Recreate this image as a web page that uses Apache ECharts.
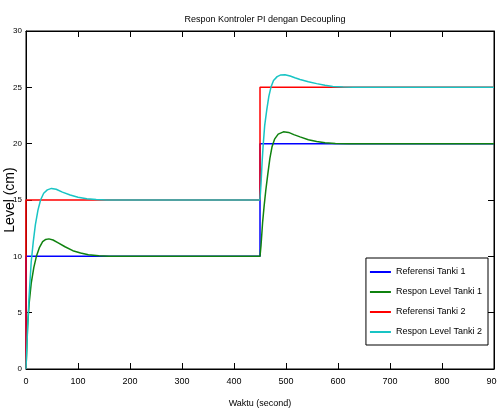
<!DOCTYPE html>
<html>
<head>
<meta charset="utf-8">
<script src="https://cdn.jsdelivr.net/npm/echarts@6.0.0/dist/echarts.min.js"></script>
<style>
html, body { margin: 0; padding: 0; background: #fff; }
#chart { width: 497px; height: 410px; }
</style>
</head>
<body>
<div id="chart"></div>
<script>
// values: [time (s), level (cm)]
var seriesNames = ['Referensi Tanki 1', 'Respon Level Tanki 1', 'Referensi Tanki 2', 'Respon Level Tanki 2'];

var refTank1 = [[0, 0], [0, 10], [450, 10], [450, 20], [900, 20]];
var refTank2 = [[0, 0], [0, 15], [450, 15], [450, 25], [900, 25]];

var respTank1 = [
    [0, 0], [3, 3.8], [6, 5.8], [10, 7.6], [15, 9.0], [20, 10.0], [26, 10.8], [32, 11.3],
    [38, 11.5], [44, 11.55], [52, 11.45], [62, 11.2], [75, 10.85], [90, 10.5], [105, 10.3],
    [120, 10.15], [140, 10.05], [160, 10], [450, 10],
    [452, 11], [455, 13], [458, 14.5], [461, 15.8], [465, 17.3], [469, 18.7], [473, 19.7],
    [478, 20.4], [485, 20.85], [495, 21.05], [505, 21.0], [515, 20.8], [527, 20.6],
    [543, 20.35], [559, 20.2], [575, 20.08], [595, 20.02], [620, 20], [900, 20]
];

var respTank2 = [
    [0, 0], [3, 3.5], [6, 6.5], [10, 9.5], [14, 11.3], [18, 12.8], [23, 14.1], [28, 15.0],
    [34, 15.6], [41, 15.9], [49, 16.03], [58, 15.95], [70, 15.7], [85, 15.44], [100, 15.25],
    [117, 15.12], [135, 15.04], [155, 15], [450, 15],
    [452, 16.5], [454, 18.3], [456, 19.8], [459, 21.6], [463, 23.0], [467, 24.2], [471, 25.0],
    [476, 25.6], [483, 25.95], [490, 26.1], [498, 26.12], [508, 26.0], [517, 25.85],
    [527, 25.7], [543, 25.5], [559, 25.33], [575, 25.18], [590, 25.08], [610, 25.02],
    [630, 25], [900, 25]
];

var seriesData = [refTank1, respTank1, refTank2, respTank2];
var seriesColors = ['#0000ff', '#0f820f', '#ff0000', '#18c4c4'];

var sans = '"Liberation Sans", Arial, sans-serif';

var chart = echarts.init(document.getElementById('chart'), null, { renderer: 'canvas' });

var series = seriesData.map(function (d, i) {
    return {
        name: seriesNames[i],
        type: 'line',
        data: d,
        symbol: 'none',
        animation: false,
        lineStyle: { color: seriesColors[i], width: 1.5 },
        itemStyle: { color: seriesColors[i] }
    };
});

// MATLAB style: ticks point into the box on all four sides
function tick() {
    return { show: true, inside: true, length: 6, lineStyle: { color: '#000' } };
}
function line() {
    return { show: true, onZero: false, lineStyle: { color: '#000', width: 1 } };
}

chart.setOption({
    backgroundColor: '#fff',
    animation: false,
    title: {
        text: 'Respon Kontroler PI dengan Decoupling',
        left: 260,
        textAlign: 'center',
        top: 10,
        textStyle: { fontFamily: sans, fontSize: 9, fontWeight: 'normal', color: '#000' }
    },
    legend: {
        orient: 'vertical',
        right: 9,
        top: 258,
        padding: [7, 6, 6, 4],
        icon: 'rect',
        itemWidth: 21,
        itemHeight: 2,
        itemGap: 6,
        backgroundColor: '#fff',
        borderColor: '#000',
        borderWidth: 1,
        borderRadius: 0,
        textStyle: { fontFamily: sans, fontSize: 9, lineHeight: 14, color: '#000' },
        data: seriesNames
    },
    grid: {
        left: 26, right: 3, top: 31, bottom: 41,
        show: true, borderColor: '#000', borderWidth: 1,
        outerBoundsMode: 'none',
        containLabel: false
    },
    xAxis: [{
        type: 'value', min: 0, max: 900, interval: 100,
        name: 'Waktu (second)', nameLocation: 'middle', nameGap: 30,
        nameTextStyle: { fontFamily: sans, fontSize: 9, color: '#000' },
        axisLine: line(),
        axisTick: tick(),
        axisLabel: { fontFamily: sans, fontSize: 9, color: '#000', margin: 8 },
        splitLine: { show: false }
    }, {
        type: 'value', min: 0, max: 900, interval: 100, position: 'top',
        axisLine: line(),
        axisTick: tick(),
        axisLabel: { show: false },
        splitLine: { show: false }
    }],
    yAxis: [{
        type: 'value', min: 0, max: 30, interval: 5,
        name: 'Level (cm)', nameLocation: 'middle', nameGap: 9,
        nameMoveOverlap: false,
        nameTextStyle: { fontFamily: sans, fontSize: 14, color: '#000' },
        axisLine: line(),
        axisTick: tick(),
        axisLabel: { fontFamily: sans, fontSize: 8, color: '#000', margin: 4 },
        splitLine: { show: false }
    }, {
        type: 'value', min: 0, max: 30, interval: 5, position: 'right',
        axisLine: line(),
        axisTick: tick(),
        axisLabel: { show: false },
        splitLine: { show: false }
    }],
    series: series
});
</script>
</body>
</html>
